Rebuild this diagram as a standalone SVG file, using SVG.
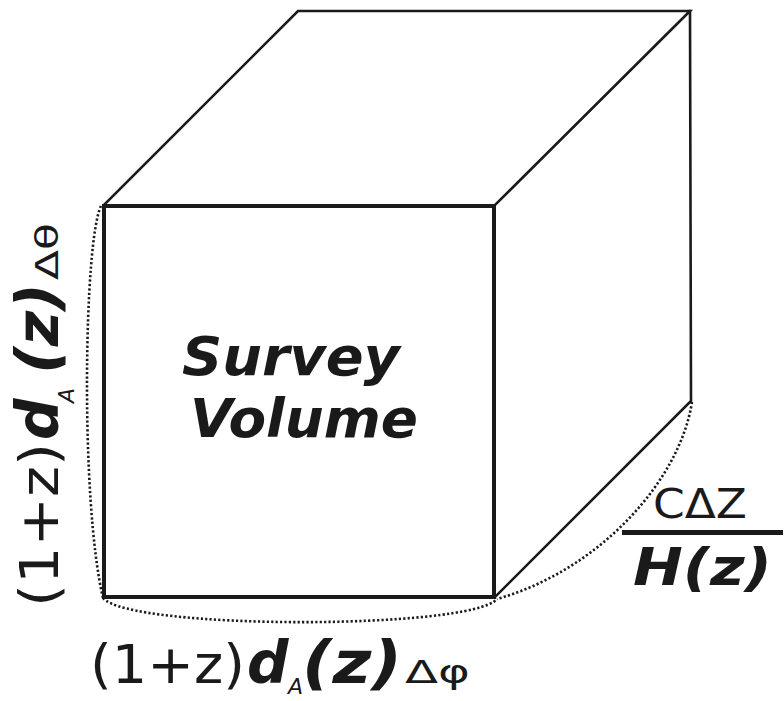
<svg xmlns="http://www.w3.org/2000/svg" width="784" height="701" viewBox="0 0 784 701">
  <style>
    .edge { fill: none; stroke: #1a1a1a; stroke-linecap: square; stroke-linejoin: miter; }
    .thick { stroke-width: 4; }
    .thin { stroke-width: 2.6; }
    .dot { fill: none; stroke: #1a1a1a; stroke-width: 2.6; stroke-dasharray: 2.2 2.2; }
    .t { font-family: "DejaVu Sans", Verdana, sans-serif; fill: #1a1a1a; }
    .bi { font-weight: bold; font-style: italic; }
    .it { font-style: italic; }
  </style>
  <rect width="784" height="701" fill="#ffffff"/>
  <g id="cube">
    <polyline class="edge thin" points="104,205 298,11 690,11 494,206"/>
    <polyline class="edge thin" points="690,11 691,401 495,597"/>
    <rect class="edge thick" x="104" y="206" width="390" height="391"/>
  </g>
  <g id="dimension-arcs">
    <path class="dot" d="M101,206 C84,240 80,500 103,598"/>
    <path class="dot" d="M103,598 C130,630 470,630 497,599"/>
    <path class="dot" d="M692,402 C680,480 600,570 497,599"/>
  </g>
  <g id="title" class="t bi" font-size="54">
    <text x="182" y="375" textLength="218" lengthAdjust="spacingAndGlyphs">Survey</text>
    <text x="190" y="437" textLength="228" lengthAdjust="spacingAndGlyphs">Volume</text>
  </g>
  <g id="label-bottom" class="t">
    <text x="90" y="683" font-size="53" textLength="155" lengthAdjust="spacingAndGlyphs">(1+z)</text>
    <text x="247" y="683" font-size="58" class="bi">d</text>
    <text x="288" y="694" font-size="22" class="it">A</text>
    <text x="302" y="683" font-size="58" class="bi" textLength="100" lengthAdjust="spacingAndGlyphs">(z)</text>
    <text x="405" y="683" font-size="32" textLength="65" lengthAdjust="spacingAndGlyphs">Δφ</text>
  </g>
  <g id="label-left" class="t" transform="translate(58,607) rotate(-90)">
    <text x="0" y="0" font-size="53" textLength="164" lengthAdjust="spacingAndGlyphs">(1+z)</text>
    <text x="167" y="0" font-size="58" class="bi">d</text>
    <text x="204" y="16" font-size="22" class="it">A</text>
    <text x="233" y="0" font-size="58" class="bi" textLength="91" lengthAdjust="spacingAndGlyphs">(z)</text>
    <text x="327" y="0" font-size="32" textLength="57" lengthAdjust="spacingAndGlyphs">Δθ</text>
  </g>
  <g id="label-right" class="t">
    <text x="653" y="518" font-size="41" textLength="94" lengthAdjust="spacingAndGlyphs">CΔZ</text>
    <line x1="622" y1="532.5" x2="783" y2="532.5" stroke="#1a1a1a" stroke-width="5"/>
    <text x="633" y="585" font-size="51" class="bi" textLength="139" lengthAdjust="spacingAndGlyphs">H(z)</text>
  </g>
</svg>
